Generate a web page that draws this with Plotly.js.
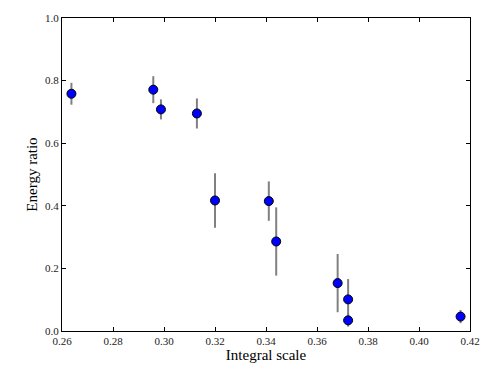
<!DOCTYPE html>
<html>
<head>
<meta charset="utf-8">
<script src="https://cdn.plot.ly/plotly-3.0.1.min.js"></script>
<style>
  html, body { margin: 0; padding: 0; background: #fff; }
  #chart { width: 491px; height: 368px; }
</style>
</head>
<body>
<div id="chart"></div>
<script>
// Valores
const integralScale = [0.2637, 0.2958, 0.2988, 0.3129, 0.3200, 0.3411, 0.3440, 0.3681, 0.3722, 0.3722, 0.4163]
const energyRatio   = [0.758, 0.771, 0.708, 0.695, 0.417, 0.415, 0.286, 0.153, 0.101, 0.034, 0.046]
const energyError   = [0.035, 0.043, 0.032, 0.048, 0.087, 0.063, 0.109, 0.093, 0.065, 0.020, 0.021]

const xTicks = [0.26, 0.28, 0.30, 0.32, 0.34, 0.36, 0.38, 0.40, 0.42]
const yTicks = [0.0, 0.2, 0.4, 0.6, 0.8, 1.0]

const serif = "Liberation Serif, DejaVu Serif, serif"

const traces = [
  {
    x: integralScale,
    y: energyRatio,
    type: "scatter",
    mode: "markers",
    error_y: {
      type: "data",
      array: energyError,
      visible: true,
      color: "#808080",
      thickness: 2,
      width: 0,
    },
    marker: {
      color: "#0000ff",
      size: 9,
      line: { color: "#000000", width: 1 },
    },
    showlegend: false,
  },
]

const axisBase = {
  showgrid: false,
  zeroline: false,
  showline: true,
  linecolor: "#000000",
  linewidth: 1,
  mirror: "ticks",
  ticks: "inside",
  ticklen: 4,
  tickwidth: 1,
  tickcolor: "#000000",
  tickfont: { family: serif, size: 11, color: "#222222" },
}

const layout = {
  width: 491,
  height: 368,
  margin: { t: 18, r: 21, b: 37, l: 62 },
  paper_bgcolor: "#ffffff",
  plot_bgcolor: "#ffffff",
  xaxis: Object.assign({}, axisBase, {
    range: [0.26, 0.42],
    tickvals: xTicks,
    ticktext: xTicks.map(v => v.toFixed(2)),
    title: { text: "Integral scale", font: { family: serif, size: 15, color: "#000000" }, standoff: 0 },
  }),
  yaxis: Object.assign({}, axisBase, {
    range: [0, 1],
    tickvals: yTicks,
    ticktext: yTicks.map(v => v.toFixed(1)),
    title: { text: "Energy ratio", font: { family: serif, size: 15, color: "#000000" }, standoff: 3 },
  }),
}

Plotly.newPlot("chart", traces, layout, { displayModeBar: false, staticPlot: true })
</script>
</body>
</html>
